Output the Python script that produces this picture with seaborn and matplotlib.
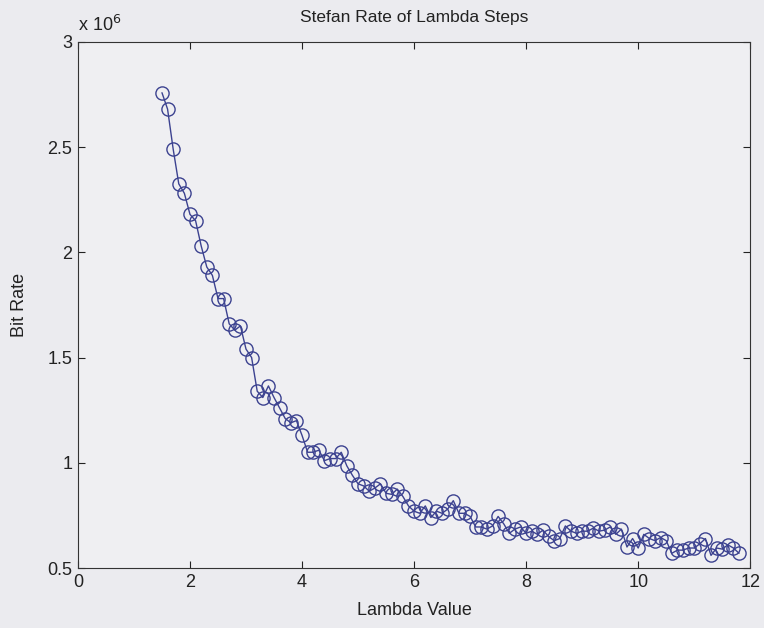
import matplotlib
matplotlib.use("Agg")
import matplotlib.pyplot as plt
import matplotlib.ticker as mticker
import numpy as np
import pandas as pd
import seaborn as sns

lam = [1.5, 1.6, 1.7, 1.8, 1.9, 2.0, 2.1, 2.2, 2.3, 2.4, 2.5, 2.6, 2.7, 2.8, 2.9,
       3.0, 3.1, 3.2, 3.3, 3.4, 3.5, 3.6, 3.7, 3.8, 3.9, 4.0, 4.1, 4.2, 4.3, 4.4,
       4.5, 4.6, 4.7, 4.8, 4.9, 5.0, 5.1, 5.2, 5.3, 5.4, 5.5, 5.6, 5.7, 5.8, 5.9,
       6.0, 6.1, 6.2, 6.3, 6.4, 6.5, 6.6, 6.7, 6.8, 6.9, 7.0, 7.1, 7.2, 7.3, 7.4,
       7.5, 7.6, 7.7, 7.8, 7.9, 8.0, 8.1, 8.2, 8.3, 8.4, 8.5, 8.6, 8.7, 8.8, 8.9,
       9.0, 9.1, 9.2, 9.3, 9.4, 9.5, 9.6, 9.7, 9.8, 9.9, 10.0, 10.1, 10.2, 10.3,
       10.4, 10.5, 10.6, 10.7, 10.8, 10.9, 11.0, 11.1, 11.2, 11.3, 11.4, 11.5,
       11.6, 11.7, 11.8]
rate_mbit = [2.758, 2.68, 2.49, 2.325, 2.28, 2.18, 2.15, 2.03, 1.93, 1.89, 1.78,
             1.78, 1.66, 1.63, 1.65, 1.54, 1.50, 1.34, 1.31, 1.365, 1.31, 1.26,
             1.21, 1.19, 1.20, 1.13, 1.05, 1.05, 1.06, 1.01, 1.02, 1.02, 1.05,
             0.985, 0.94, 0.90, 0.89, 0.865, 0.88, 0.90, 0.855, 0.85, 0.875, 0.84,
             0.795, 0.77, 0.76, 0.795, 0.74, 0.77, 0.76, 0.78, 0.82, 0.76, 0.76,
             0.745, 0.695, 0.695, 0.685, 0.70, 0.745, 0.71, 0.665, 0.685, 0.695,
             0.665, 0.675, 0.66, 0.68, 0.65, 0.63, 0.64, 0.70, 0.675, 0.665, 0.675,
             0.675, 0.69, 0.675, 0.68, 0.695, 0.66, 0.685, 0.60, 0.64, 0.595, 0.66,
             0.64, 0.63, 0.645, 0.63, 0.57, 0.585, 0.585, 0.595, 0.595, 0.615, 0.64,
             0.56, 0.595, 0.59, 0.61, 0.595, 0.57]

x_ticks = [0, 2, 4, 6, 8, 10, 12]
y_ticks = [0.5, 1, 1.5, 2, 2.5, 3]

df = pd.DataFrame({"Lambda Value": lam, "Bit Rate": rate_mbit})

sns.set_style("ticks")
plt.rcParams["font.family"] = ["Liberation Sans", "DejaVu Sans"]

bg = "#ebebef"
fig = plt.figure(figsize=(7.64, 6.28), dpi=100, facecolor=bg)
ax = fig.add_axes([0.102, 0.0955, 0.880, 0.838])
ax.set_facecolor("#efeff2")

col = "#3c4290"
sns.lineplot(data=df, x="Lambda Value", y="Bit Rate", ax=ax, color=col,
             linewidth=1.0, marker="o", markersize=9.5, markerfacecolor="none",
             markeredgecolor=col, markeredgewidth=1.0)

ax.set_xlim(0, 12)
ax.set_ylim(0.5, 3)
ax.set_xticks(x_ticks)
ax.set_yticks(y_ticks)
ax.yaxis.set_major_formatter(mticker.FuncFormatter(lambda v, p: f"{v:g}"))
ax.tick_params(direction="in", top=True, right=True, length=5, width=0.8,
               labelsize=13, colors="#222222", pad=4)
for s in ax.spines.values():
    s.set_visible(True)
    s.set_color("#333333")
    s.set_linewidth(0.8)

ax.set_xlabel("Lambda Value", fontsize=13, color="#222222", labelpad=8)
ax.set_ylabel("Bit Rate", fontsize=13, color="#222222", labelpad=14)
ax.set_title("Stefan Rate of Lambda Steps", fontsize=12.5, color="#222222", pad=14)
ax.text(0.0, 1.012, r"x 10$^{6}$", transform=ax.transAxes, fontsize=13,
        color="#222222", ha="left", va="bottom")

fig.savefig("out.png", dpi=100, facecolor=bg)
